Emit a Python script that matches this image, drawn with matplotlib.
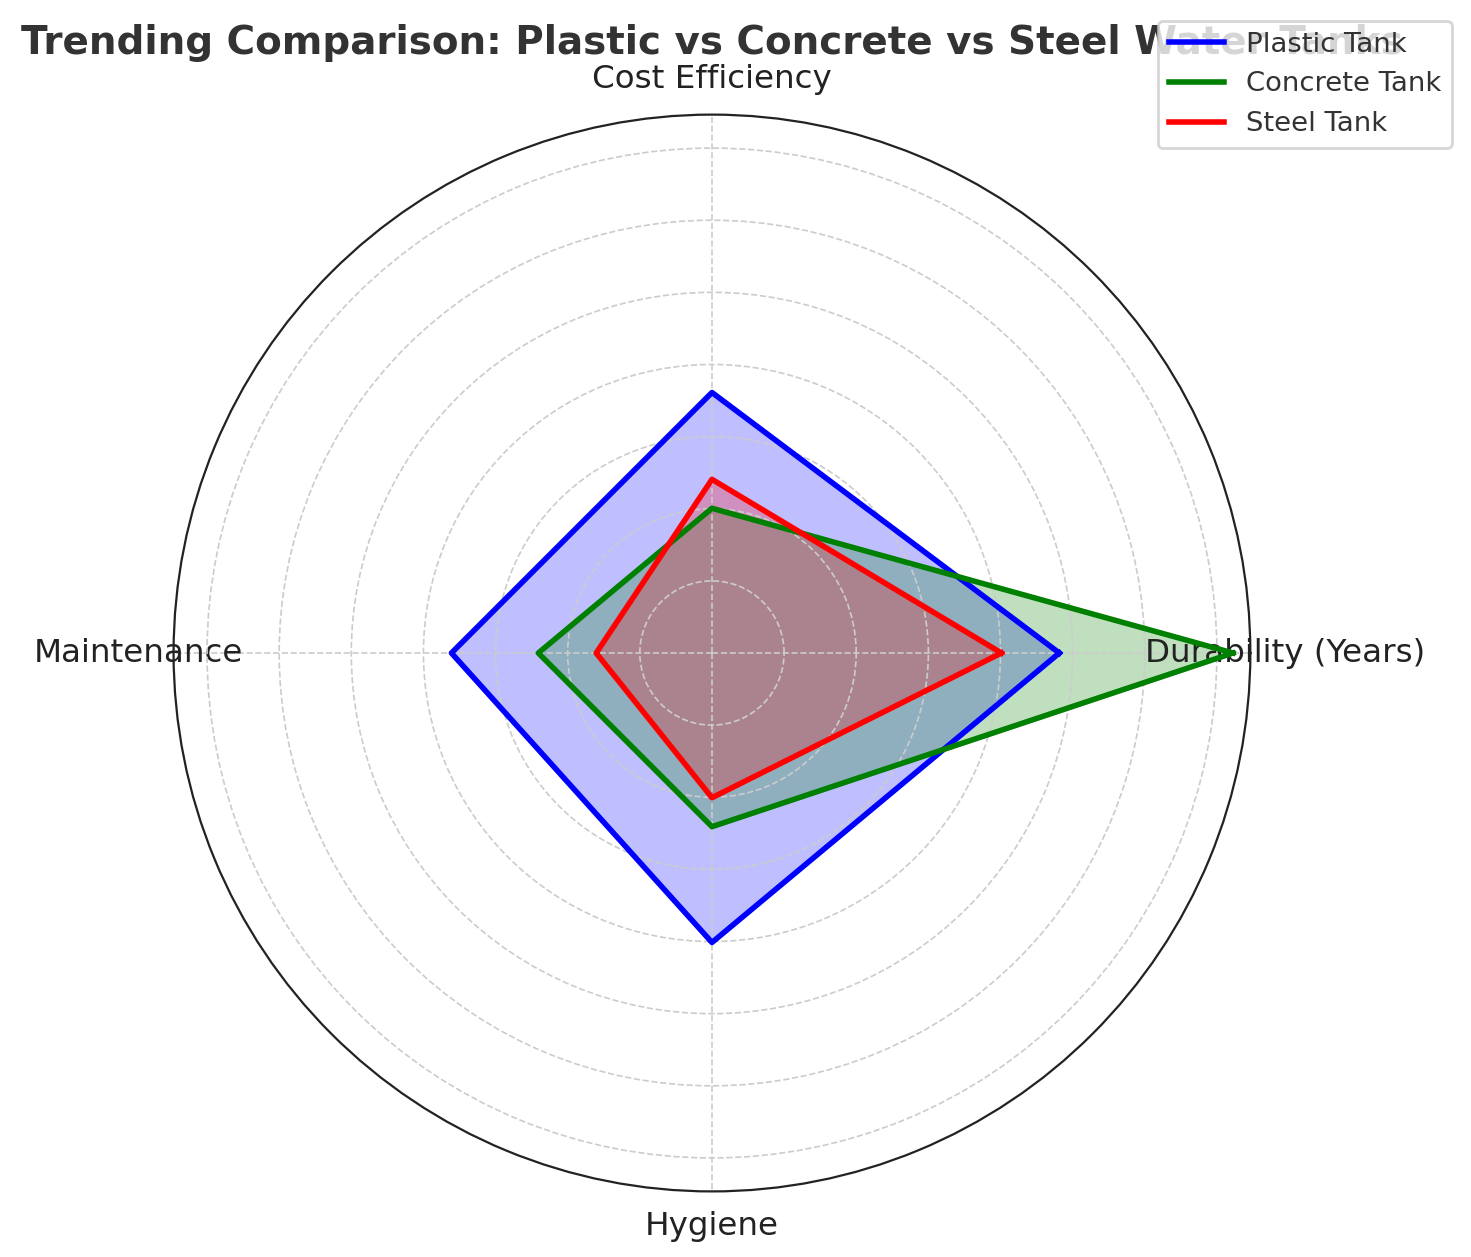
import numpy as np
import matplotlib
matplotlib.use("Agg")
import matplotlib.pyplot as plt

categories = ["Durability (Years)", "Cost Efficiency", "Maintenance", "Hygiene"]
plastic = [30, 22.5, 22.5, 25]
concrete = [45, 12.5, 15, 15]
steel = [25, 15, 10, 12.5]
series = [("Plastic Tank", plastic, "blue"), ("Concrete Tank", concrete, "green"), ("Steel Tank", steel, "red")]

angles = np.linspace(0, 2*np.pi, len(categories), endpoint=False).tolist()
angles_c = angles + angles[:1]

fig = plt.figure(figsize=(7.355, 6.285), dpi=200)
ax = fig.add_subplot(111, polar=True)
ax.set_position([0.118, 0.052, 0.732, 0.857])
for name, vals, col in series:
    v = vals + vals[:1]
    ax.plot(angles_c, v, color=col, linewidth=2, label=name)
    ax.fill(angles_c, v, color=col, alpha=0.25)
ax.set_ylim(0, 46.5)
ax.set_yticks([6.23*k for k in range(1, 8)])
ax.set_yticklabels([])
ax.set_xticks(angles)
ax.set_xticklabels(categories, fontsize=11.7, color="#222")
ax.tick_params(axis="x", pad=2)
ax.grid(color="#cccccc", linestyle="--", linewidth=0.6)
ax.spines["polar"].set_color("#222")
ax.set_title("Trending Comparison: Plastic vs Concrete vs Steel Water Tanks", fontsize=14,
             fontweight="bold", color="#333", pad=22)
ax.legend(loc="upper right", bbox_to_anchor=(1.2, 1.1), fontsize=9.9, labelcolor="#333")
fig.savefig("out.png", dpi=200)
